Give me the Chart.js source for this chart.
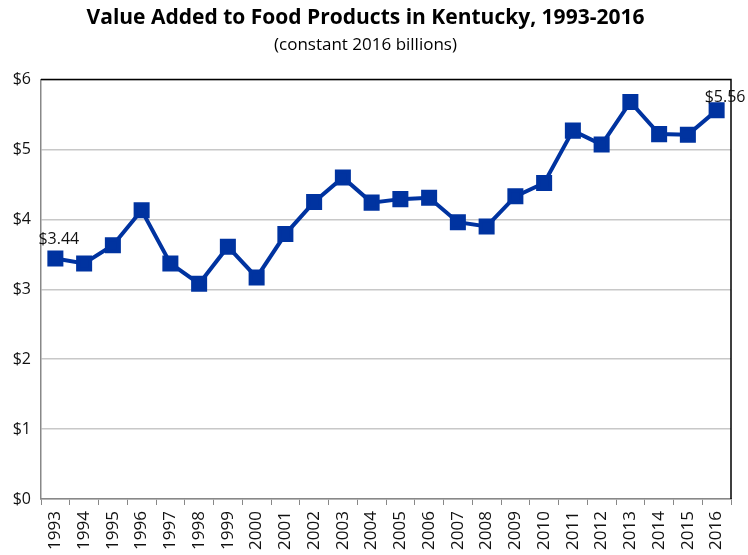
<!DOCTYPE html>
<html>
<head>
<meta charset="utf-8">
<script src="https://cdn.jsdelivr.net/npm/chart.js@4"></script>
<style>
    html, body { margin: 0; padding: 0; background: #fff; }
    #wrap { width: 748px; height: 555px; }
</style>
</head>
<body>
<div id="wrap"><canvas id="foodChart"></canvas></div>
<script>
const years = ['1993', '1994', '1995', '1996', '1997', '1998', '1999', '2000', '2001', '2002', '2003', '2004',
    '2005', '2006', '2007', '2008', '2009', '2010', '2011', '2012', '2013', '2014', '2015', '2016'];
const valueAdded = [3.44, 3.37, 3.63, 4.13, 3.37, 3.08, 3.61, 3.17, 3.79, 4.25, 4.60, 4.24,
    4.29, 4.31, 3.96, 3.90, 4.33, 4.52, 5.27, 5.07, 5.68, 5.22, 5.21, 5.56];
const yTicks = [0, 1, 2, 3, 4, 5, 6];
const labelledPoints = [0, 23];

const fontFamily = "'Open Sans', 'Liberation Sans', sans-serif";

// draws the $ labels over first and last points, plus the black top/right border
const extrasPlugin = {
    id: 'extras',
    afterDatasetsDraw(chart) {
        const ctx = chart.ctx;
        const area = chart.chartArea;
        ctx.save();
        ctx.strokeStyle = '#000';
        ctx.lineWidth = 1.5;
        ctx.beginPath();
        ctx.moveTo(area.left, area.top);
        ctx.lineTo(area.right, area.top);
        ctx.lineTo(area.right, area.bottom);
        ctx.stroke();

        const meta = chart.getDatasetMeta(0);
        ctx.fillStyle = '#111';
        ctx.font = '16px ' + fontFamily;
        ctx.textBaseline = 'bottom';
        ctx.textAlign = 'left';
        labelledPoints.forEach(i => {
            const pt = meta.data[i];
            const text = '$' + valueAdded[i].toFixed(2);
            if (i === 0) {
                ctx.fillText(text, pt.x - 17, pt.y - 11);
            } else {
                ctx.fillText(text, pt.x - 12, pt.y - 5);
            }
        });
        ctx.restore();
    }
};

const ctx = document.getElementById('foodChart').getContext('2d');
new Chart(ctx, {
    type: 'line',
    data: {
        labels: years,
        datasets: [{
            data: valueAdded,
            borderColor: '#0033a0',
            backgroundColor: '#0033a0',
            borderWidth: 4,
            pointStyle: 'rect',
            pointRadius: 8.5,
            pointHoverRadius: 8.5,
            tension: 0
        }]
    },
    options: {
        responsive: true,
        maintainAspectRatio: false,
        animation: false,
        layout: { padding: { left: 0, right: 17, top: 0, bottom: 0 } },
        plugins: {
            legend: { display: false },
            tooltip: { enabled: false },
            title: {
                display: true,
                text: 'Value Added to Food Products in Kentucky, 1993-2016',
                color: '#000',
                font: { family: fontFamily, size: 21, weight: 'bold' },
                padding: { top: 5, bottom: 5 }
            },
            subtitle: {
                display: true,
                text: '(constant 2016 billions)',
                color: '#000',
                font: { family: fontFamily, size: 17 },
                padding: { top: 0, bottom: 24 }
            }
        },
        scales: {
            x: {
                offset: true,
                grid: {
                    offset: true,
                    drawOnChartArea: false,
                    drawTicks: true,
                    tickLength: 6,
                    color: '#888'
                },
                border: { color: '#888', width: 1.5 },
                ticks: {
                    color: '#111',
                    maxRotation: 90,
                    minRotation: 90,
                    autoSkip: false,
                    padding: 6,
                    font: { family: fontFamily, size: 17 }
                },
                afterFit(axis) { axis.height = 56; }
            },
            y: {
                min: 0,
                max: 6,
                afterBuildTicks(axis) { axis.ticks = yTicks.map(v => ({ value: v })); },
                grid: { color: '#c8c8c8', lineWidth: 1.5, drawTicks: false },
                border: { color: '#888', width: 1.5 },
                ticks: {
                    color: '#111',
                    padding: 10,
                    font: { family: fontFamily, size: 16 },
                    callback: v => '$' + v
                },
                afterFit(axis) { axis.width = 41; }
            }
        }
    },
    plugins: [extrasPlugin]
});
</script>
</body>
</html>
